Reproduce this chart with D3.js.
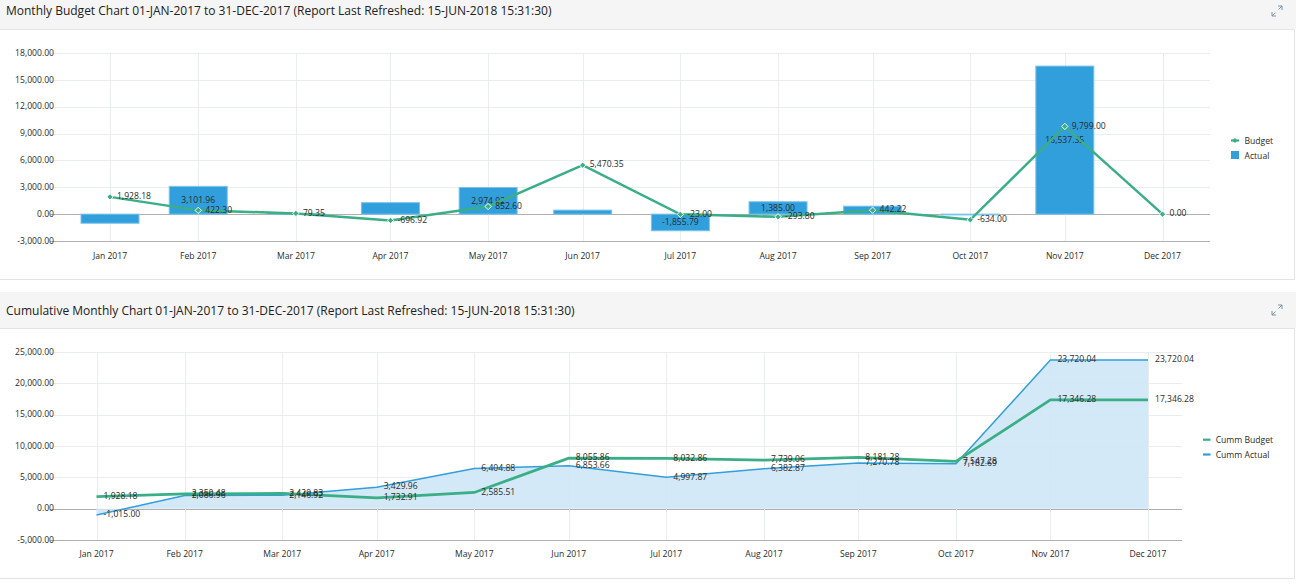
<!DOCTYPE html>
<html>
<head>
<meta charset="utf-8">
<script src="https://cdn.jsdelivr.net/npm/d3@7"></script>
<style>
body { margin: 0; background: #fff; font-family: "Open Sans", sans-serif; }
svg { display: block; }
text { fill: #2b2b2b; font-size: 8.6px; }
.title { font-size: 12px; fill: #222; }
</style>
</head>
<body>
<script>
var width = 1296,
    height = 585;

var monthEnds = ["2017-01-31","2017-02-28","2017-03-31","2017-04-30","2017-05-31","2017-06-30",
                 "2017-07-31","2017-08-31","2017-09-30","2017-10-31","2017-11-30","2017-12-31"];
var monthLabels = ["Jan 2017","Feb 2017","Mar 2017","Apr 2017","May 2017","Jun 2017",
                   "Jul 2017","Aug 2017","Sep 2017","Oct 2017","Nov 2017","Dec 2017"];

var budget = [1928.18,422.30,79.35,-696.92,852.60,5470.35,-23.00,-293.80,442.22,-634.00,9799.00,0.00];
var actual = [-1015.00,3101.96,59.96,1283.04,2974.92,448.78,-1855.79,1385.00,887.91,-88.09,16537.35,0];

var cummBudget = [1928.18,2350.48,2429.83,1732.91,2585.51,8055.86,8032.86,7739.06,8181.28,7547.28,17346.28,17346.28];
var cummActual = [-1015.00,2086.96,2146.92,3429.96,6404.88,6853.66,4997.87,6382.87,7270.78,7182.69,23720.04,23720.04];

var topTicks = [-3000,0,3000,6000,9000,12000,15000,18000];
var bottomTicks = [-5000,0,5000,10000,15000,20000,25000];

var topTitle = "Monthly Budget Chart 01-JAN-2017 to 31-DEC-2017 (Report Last Refreshed: 15-JUN-2018 15:31:30)";
var bottomTitle = "Cumulative Monthly Chart 01-JAN-2017 to 31-DEC-2017 (Report Last Refreshed: 15-JUN-2018 15:31:30)";

var green = "#3aae85",
    blue = "#309fdb",
    gridColor = "#e9edf0",
    axisColor = "#b0b0b0";

// plain hyphen for negatives, like the report
var fmt = d3.formatLocale({ decimal: ".", thousands: ",", grouping: [3], currency: ["", ""], minus: "-" }).format(",.2f");
var dates = monthEnds.map(function(d) { return new Date(d + "T00:00:00Z"); });

var svg = d3.select("body").append("svg")
    .attr("width", width)
    .attr("height", height);

panel(0, 29, 279, topTitle, 15, 5);
panel(292, 328, 578, bottomTitle, 23, 304);

// --- top chart
var x1 = d3.scaleUtc().domain([dates[0], dates[11]]).range([110, 1162.5]);
var y1 = d3.scaleLinear().domain([-3000, 18000]).range([241, 53]);
frame(x1, y1, topTicks, 50, 1210, 17.5);

svg.selectAll("rect.actual")
    .data(actual)
  .enter().append("rect")
    .attr("class", "actual")
    .attr("x", function(d, i) { return x1(dates[i]) - 29; })
    .attr("y", function(d) { return Math.min(y1(d), y1(0)); })
    .attr("width", 58)
    .attr("height", function(d) { return Math.abs(y1(d) - y1(0)); })
    .attr("fill", blue)
    .attr("stroke", "#7cc3ea")
    .attr("stroke-width", 1);

// only bars tall enough get a label
svg.selectAll("text.actual-label")
    .data(actual)
  .enter().filter(function(d) { return Math.abs(d) >= 1300; }).append("text")
    .attr("class", "actual-label")
    .attr("x", function(d) { return x1(dates[actual.indexOf(d)]); })
    .attr("y", function(d) { return (y1(d) + y1(0)) / 2 + 2.7; })
    .attr("text-anchor", "middle")
    .text(fmt);

drawLine(x1, y1, budget, green, 2.5);

svg.selectAll("path.marker")
    .data(budget)
  .enter().append("path")
    .attr("class", "marker")
    .attr("d", d3.symbol().type(d3.symbolSquare).size(20))
    .attr("transform", function(d, i) { return "translate(" + x1(dates[i]) + "," + y1(d) + ") rotate(45)"; })
    .attr("fill", green)
    .attr("stroke", "#fff")
    .attr("stroke-width", 0.9);

labels(x1, y1, budget);
legendLine(1231, 140.5, 8, 13.5, "Budget", green, true);
svg.append("rect")
    .attr("x", 1231).attr("y", 151).attr("width", 8).attr("height", 8)
    .attr("fill", blue);
svg.append("text").attr("x", 1244.5).attr("y", 158.5).text("Actual");

// --- bottom chart
var x2 = d3.scaleUtc().domain([dates[0], dates[11]]).range([96.5, 1148]);
var y2 = d3.scaleLinear().domain([-5000, 25000]).range([540, 352]);
frame(x2, y2, bottomTicks, 50, 1182, 17);

svg.append("path")
    .datum(cummActual)
    .attr("fill", "#cfe7f6")
    .attr("fill-opacity", 0.9)
    .attr("d", d3.area()
      .x(function(d, i) { return x2(dates[i]); })
      .y0(y2(0))
      .y1(function(d) { return y2(d); }));

drawLine(x2, y2, cummActual, blue, 1.5);
drawLine(x2, y2, cummBudget, green, 2.7);
labels(x2, y2, cummBudget);
labels(x2, y2, cummActual);
legendLine(1203, 439.7, 7.5, 12.7, "Cumm Budget", green, false);
legendLine(1203, 454.5, 7.5, 12.7, "Cumm Actual", blue, false);

function panel(top, mid, bottom, title, titleY, iconY) {
  svg.append("rect")
      .attr("x", 0).attr("y", top).attr("width", width).attr("height", mid - top)
      .attr("fill", "#f5f5f5");
  svg.append("path")
      .attr("d", "M0," + (mid + 0.5) + "H1294.5V" + (bottom + 0.5) + "H0")
      .attr("fill", "none")
      .attr("stroke", "#e2e4e6");
  svg.append("text")
      .attr("class", "title")
      .attr("x", 6)
      .attr("y", top + titleY)
      .text(title);

  // expand icon
  svg.append("path")
      .attr("transform", "translate(1271," + iconY + ")")
      .attr("d", "M1,11 L4.5,7.5 M1,7 V11 H5 M7.5,4.5 L11,1 M7,1 H11 V5")
      .attr("fill", "none")
      .attr("stroke", "#7d93a5")
      .attr("stroke-width", 1);
}

function frame(x, y, ticks, left, right, labelGap) {
  var bottom = y.range()[0], top = y.range()[1];

  svg.selectAll(null)
      .data(ticks)
    .enter().append("line")
      .attr("x1", left).attr("x2", right)
      .attr("y1", function(d) { return Math.round(y(d)) + 0.5; })
      .attr("y2", function(d) { return Math.round(y(d)) + 0.5; })
      .attr("stroke", function(d) { return d == 0 || d == ticks[0] ? axisColor : gridColor; });

  svg.selectAll(null)
      .data(dates)
    .enter().append("line")
      .attr("x1", function(d) { return Math.round(x(d)) + 0.5; })
      .attr("x2", function(d) { return Math.round(x(d)) + 0.5; })
      .attr("y1", top).attr("y2", bottom)
      .attr("stroke", gridColor);

  svg.selectAll(null)
      .data(ticks)
    .enter().append("text")
      .attr("x", 54)
      .attr("y", function(d) { return y(d) + 2.7; })
      .attr("text-anchor", "end")
      .text(fmt);

  svg.selectAll(null)
      .data(monthLabels)
    .enter().append("text")
      .attr("x", function(d, i) { return x(dates[i]); })
      .attr("y", bottom + labelGap)
      .attr("text-anchor", "middle")
      .text(function(d) { return d; });
}

function drawLine(x, y, values, color, w) {
  svg.append("path")
      .datum(values)
      .attr("fill", "none")
      .attr("stroke", color)
      .attr("stroke-width", w)
      .attr("d", d3.line()
        .x(function(d, i) { return x(dates[i]); })
        .y(function(d) { return y(d); }));
}

function labels(x, y, values) {
  svg.selectAll(null)
      .data(values)
    .enter().append("text")
      .attr("x", function(d, i) { return x(dates[i]) + 7; })
      .attr("y", function(d) { return y(d) + 2.3; })
      .text(fmt);
}

function legendLine(lx, ly, w, textGap, name, color, marker) {
  svg.append("line")
      .attr("x1", lx).attr("x2", lx + w)
      .attr("y1", ly).attr("y2", ly)
      .attr("stroke", color)
      .attr("stroke-width", 2.2);
  if (marker) {
    svg.append("path")
        .attr("d", d3.symbol().type(d3.symbolSquare).size(12))
        .attr("transform", "translate(" + (lx + w / 2) + "," + ly + ") rotate(45)")
        .attr("fill", color);
  }
  svg.append("text").attr("x", lx + textGap).attr("y", ly + 3).text(name);
}
</script>
</body>
</html>
